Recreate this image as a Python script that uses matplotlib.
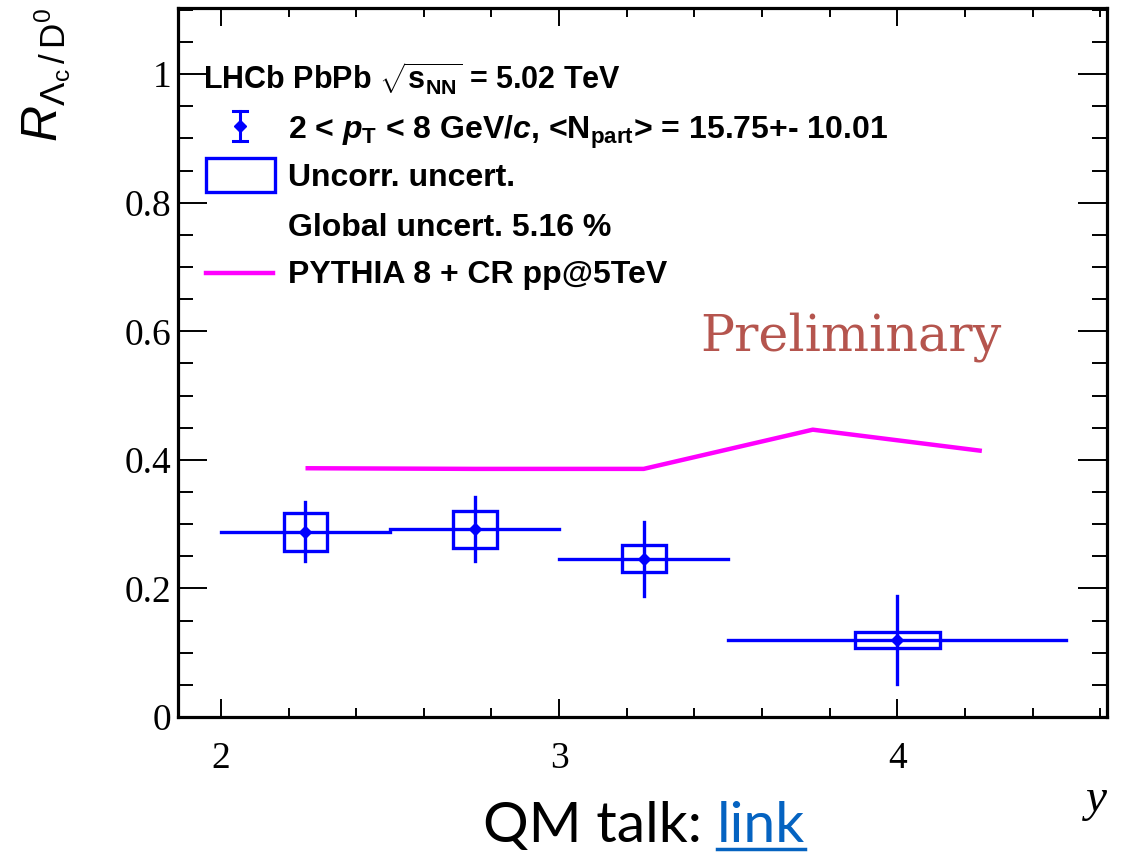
import matplotlib
matplotlib.use("Agg")
import matplotlib.pyplot as plt
from matplotlib.patches import Rectangle
from matplotlib.ticker import MultipleLocator, FixedLocator
import numpy as np

# ---------------- data ----------------
bin_lo = [2.0, 2.5, 3.0, 3.5]
bin_hi = [2.5, 3.0, 3.5, 4.5]
x_center = [2.25, 2.75, 3.25, 4.0]
ratio = [0.288, 0.292, 0.246, 0.120]
stat_err = [0.046, 0.050, 0.058, 0.068]
syst_err = [0.030, 0.029, 0.021, 0.013]
box_dx = [0.064, 0.065, 0.065, 0.126]

pythia_x = [2.25, 2.75, 3.25, 3.75, 4.25]
pythia_y = [0.387, 0.386, 0.386, 0.447, 0.414]

x_ticks = [2, 3, 4]
y_ticks = [0, 0.2, 0.4, 0.6, 0.8, 1.0]
y_ticklabels = ["0", "0.2", "0.4", "0.6", "0.8", "1"]

legend_lines = [
    r"LHCb PbPb $\sqrt{\mathrm{s}_{\mathrm{NN}}}$ = 5.02 TeV",
    r"2 < $p_{\mathrm{T}}$ < 8 GeV/$c$, <N$_{\mathrm{part}}$> = 15.75+- 10.01",
    "Uncorr. uncert.",
    "Global uncert. 5.16 %",
    "PYTHIA 8 + CR pp@5TeV",
]

# ---------------- style ----------------
plt.rcParams["mathtext.fontset"] = "custom"
plt.rcParams["mathtext.rm"] = "Liberation Sans:bold"
plt.rcParams["mathtext.it"] = "Liberation Sans:bold:italic"
plt.rcParams["mathtext.bf"] = "Liberation Sans:bold"
plt.rcParams["mathtext.sf"] = "Liberation Sans"
plt.rcParams["mathtext.cal"] = "Liberation Sans:italic"

BLUE = "#0000ff"
MAG = "#ff00ff"

W, H = 1132, 852
fig = plt.figure(figsize=(W / 100, H / 100), dpi=100)
L, R, B, T = 178, 1107, 717, 8
ax = fig.add_axes([L / W, 1 - B / H, (R - L) / W, (B - T) / H])
ax.set_xlim(1.873, 4.62)
ax.set_ylim(0, 1.103)

for s in ax.spines.values():
    s.set_linewidth(2.3)

ax.xaxis.set_major_locator(FixedLocator(x_ticks))
ax.xaxis.set_minor_locator(MultipleLocator(0.2))
ax.yaxis.set_major_locator(FixedLocator(y_ticks))
ax.yaxis.set_minor_locator(MultipleLocator(0.05))
ax.set_yticklabels(y_ticklabels)
ax.tick_params(which="both", direction="in", top=True, right=True, width=1.4)
ax.tick_params(axis="y", which="major", length=21, pad=5)
ax.tick_params(axis="y", which="minor", length=11)
ax.tick_params(axis="x", which="major", length=13, pad=18)
ax.tick_params(axis="x", which="minor", length=6.5)
for lab in ax.get_xticklabels() + ax.get_yticklabels():
    lab.set_fontfamily("Liberation Serif")
    lab.set_fontsize(27)

# ---------------- data drawing ----------------
ax.plot(pythia_x, pythia_y, color=MAG, lw=3.2, solid_capstyle="butt", zorder=3)

for lo, hi, xc, yv, se, sy, dx in zip(bin_lo, bin_hi, x_center, ratio,
                                       stat_err, syst_err, box_dx):
    ax.plot([lo, hi], [yv, yv], color=BLUE, lw=2.4, zorder=4)
    ax.plot([xc, xc], [yv - se, yv + se], color=BLUE, lw=2.4, zorder=4)
    ax.add_patch(Rectangle((xc - dx, yv - sy), 2 * dx, 2 * sy, fill=False,
                           edgecolor=BLUE, lw=2.4, zorder=4))
ax.plot(x_center, ratio, linestyle="none", marker="D", ms=6.5,
        color=BLUE, zorder=5)

# ---------------- legend (manual) ----------------
def axc(px, py):
    return ((px - L) / (R - L), (B - py) / (B - T))

lfs = [22, 23, 23, 23, 23]
ys = [75, 126, 175, 225, 272]
xs = [203, 288, 288, 288, 288]
for (px, py), txt, fs in zip(zip(xs, ys), legend_lines, lfs):
    ax.text(*axc(px, py), txt, transform=ax.transAxes, fontsize=fs,
            fontfamily="Liberation Sans", fontweight="bold",
            ha="left", va="center_baseline")

# errorbar symbol
ex, _ = axc(240, 0)
_, ey0 = axc(0, 141)
_, ey1 = axc(0, 111)
_, eyc = axc(0, 126)
ax.plot([ex, ex], [ey0, ey1], color=BLUE, lw=2.2, transform=ax.transAxes)
cw = 7 / (R - L)
for yy in (ey0, ey1):
    ax.plot([ex - cw, ex + cw], [yy, yy], color=BLUE, lw=2.2, transform=ax.transAxes)
ax.plot([ex], [eyc], marker="D", ms=6.5, color=BLUE, transform=ax.transAxes)

# box symbol
bx0, by0 = axc(206, 192)
bx1, by1 = axc(275, 158)
ax.add_patch(Rectangle((bx0, by0), bx1 - bx0, by1 - by0, fill=False,
                       edgecolor=BLUE, lw=2.4, transform=ax.transAxes))
# line symbol
lx0, ly = axc(206, 273)
lx1, _ = axc(273, 273)
ax.plot([lx0, lx1], [ly, ly], color=MAG, lw=3.2, transform=ax.transAxes)

# Preliminary
ax.text(*axc(700, 337), "Preliminary", transform=ax.transAxes,
        fontsize=36.5, fontfamily="DejaVu Serif", color="#b5554e",
        ha="left", va="center")

# ---------------- axis labels ----------------
fig.text(47 / W, 1 - 8 / H,
         r"$\mathcal{R}_{\mathsf{\Lambda_{c}\,/\,D^{0}}}$",
         rotation=90, ha="center", va="top", fontsize=36)
fig.text(1096 / W, 1 - 800 / H, "y", fontfamily="Liberation Serif",
         fontstyle="italic", fontsize=34, ha="center", va="center")

# ---------------- footer ----------------
FS = 41
t1 = fig.text(483 / W, 1 - 842 / H, "QM talk: ", fontfamily="Lato",
              fontsize=FS, ha="left", va="baseline", color="black")
fig.canvas.draw()
r = fig.canvas.get_renderer()
bb = t1.get_window_extent(r)
t2 = fig.text(bb.x1 / W, 1 - 842 / H, "link", fontfamily="Lato",
              fontsize=FS, ha="left", va="baseline", color="#0563c1")
fig.canvas.draw()
bb2 = t2.get_window_extent(r)
fig.add_artist(plt.Line2D([bb2.x0 / W, bb2.x1 / W], [1 - 849 / H, 1 - 849 / H],
                          color="#0563c1", lw=2.5, transform=fig.transFigure))

fig.savefig("out.png", dpi=100)
